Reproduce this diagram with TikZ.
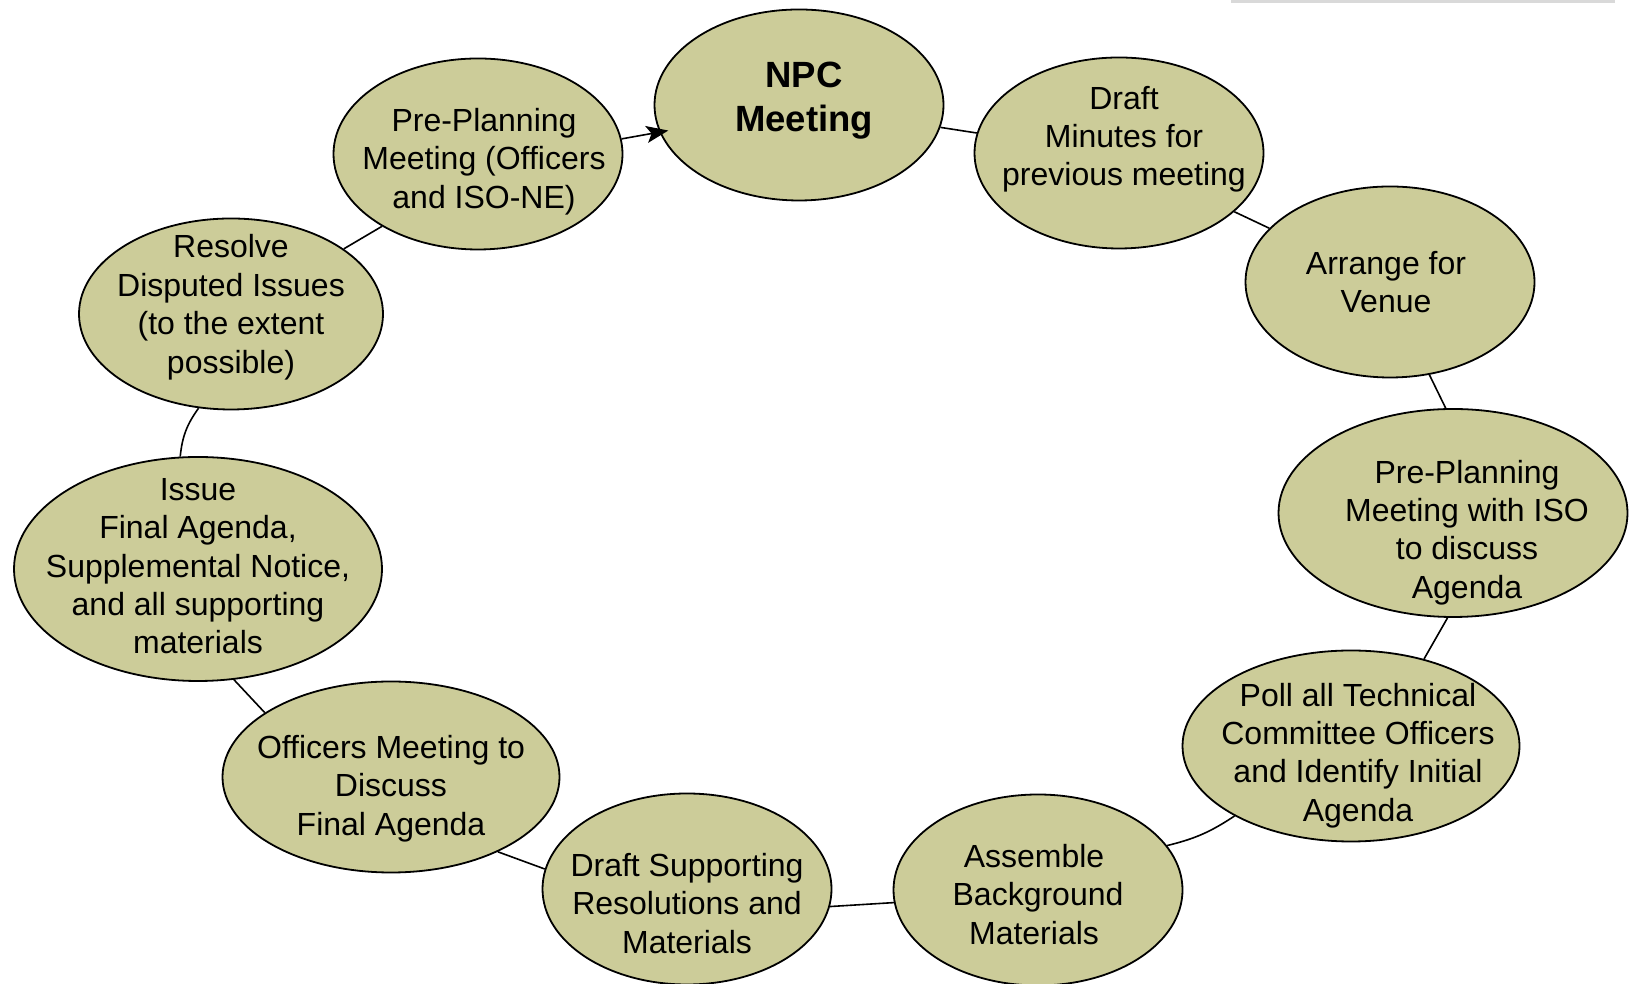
\documentclass[tikz,border=0pt]{standalone}
\usepackage{fontspec}
\setmainfont{Liberation Sans}
\usetikzlibrary{shapes.geometric,arrows.meta}
\definecolor{sage}{RGB}{204,204,153}
\newcommand{\lowr}[1]{\rule{0pt}{#1}}% pushes text down
\newcommand{\uppr}[1]{\rule[-#1]{0pt}{#1}}% pushes text up
\newcommand{\rgt}[1]{\hspace*{#1}}% pushes a line right (or left, at its end)
\tikzset{
  stage/.style={ellipse, draw, line width=1.8pt, fill=sage, align=center,
    minimum width=289pt, minimum height=191pt, inner xsep=-70pt, inner ysep=-60pt,
    font=\fontsize{32}{38.4}\selectfont},
  link/.style={line width=1.6pt}
}
\begin{document}
\begin{tikzpicture}[x=1pt, y=1pt]
\useasboundingbox (0,0) rectangle (1629,984);
\fill[gray!30] (1231,981) rectangle (1615,984);

\node[stage, font=\bfseries\fontsize{36.5}{44}\selectfont] (npc) at (799,879) {\rgt{10pt}NPC\\\rgt{10pt}Meeting\uppr{16pt}};
\node[stage] (draft) at (1119,831) {\rgt{10pt}Draft\\\rgt{10pt}Minutes for\\\rgt{10pt}previous meeting\uppr{34pt}};
\node[stage] (venue) at (1390,702) {Arrange for\rgt{8pt}\\Venue\rgt{8pt}};
\node[stage, minimum width=349pt, minimum height=208pt] (iso) at (1453,471) {\lowr{62pt}\rgt{28pt}Pre-Planning\\\rgt{28pt}Meeting with ISO\\\rgt{28pt}to discuss\\\rgt{28pt}Agenda};
\node[stage, minimum width=337pt] (poll) at (1351,238) {\lowr{42pt}\rgt{14pt}Poll all Technical\\\rgt{14pt}Committee Officers\\\rgt{14pt}and Identify Initial\\\rgt{14pt}Agenda};
\node[stage] (assemble) at (1038,94) {\lowr{32pt}Assemble\rgt{8pt}\\Background\rgt{8pt}\\Materials\rgt{8pt}};
\node[stage] (support) at (687,95) {\lowr{52pt}Draft Supporting\\Resolutions and\\Materials};
\node[stage, minimum width=337pt] (officers) at (391,207) {\lowr{46pt}Officers Meeting to\\Discuss\\Final Agenda};
\node[stage, minimum width=368pt, minimum height=224pt] (issue) at (198,415) {Issue\\Final Agenda,\\Supplemental Notice,\\and all supporting\\materials\uppr{6pt}};
\node[stage, minimum width=304pt] (resolve) at (231,670) {Resolve\\Disputed Issues\\(to the extent\\possible)\uppr{20pt}};
\node[stage] (prep) at (478,830) {\lowr{38pt}\rgt{12pt}Pre-Planning\\\rgt{12pt}Meeting (Officers\\\rgt{12pt}and ISO-NE)};

\draw[link,-{Stealth[length=22pt,width=17pt,inset=5pt]},shorten >=-9pt] (prep.6) -- (npc.191);
\draw[link] (npc.-9) -- (draft.172);
\draw[link] (draft.-27) -- (venue.156);
\draw[link] (venue.-67) -- (iso.94);
\draw[link] (iso.-93) -- (poll.50);
\draw[link] (poll.211) to[bend left=10] (assemble.19);
\draw[link] (assemble.185) -- (support.-7);
\draw[link] (support.172) -- (officers.-35);
\draw[link] (officers.153) -- (issue.-72);
\draw[link] (issue.99) to[bend left=15] (resolve.251);
\draw[link] (resolve.30) -- (prep.217);

\end{tikzpicture}
\end{document}
